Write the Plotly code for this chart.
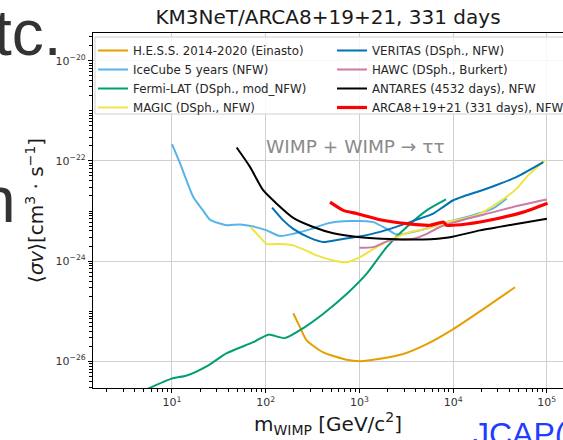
import plotly.graph_objects as go

# ---------------- data ----------------
hess_m = [197, 232, 274, 412, 731, 1014, 1660, 2940, 5230, 10050, 21000, 45800]
hess_sv = [9.1e-26, 4.8e-26, 2.6e-26, 1.5e-26, 1.07e-26, 1.0e-26, 1.12e-26, 1.4e-26, 2.2e-26, 4.4e-26, 1.1e-25, 3.0e-25]

icecube_m = [10, 12.2, 16.9, 21.4, 25.5, 38.4, 53.2, 73.8, 102.5, 142, 197, 297, 448, 794, 1406, 1955, 2500, 4436, 8550, 13970, 26850, 37300]
icecube_sv = [2.16e-22, 8.9e-23, 1.9e-23, 1.03e-23, 6.7e-24, 5.2e-24, 5.4e-24, 4.9e-24, 4.1e-24, 3.16e-24, 3.5e-24, 4.3e-24,
              5.6e-24, 6.3e-24, 6.0e-24, 4.4e-24, 3.4e-24, 4.1e-24, 6.0e-24, 7.6e-24, 1.13e-23, 1.77e-23]

fermi_m = [5.0, 9.9, 14.4, 24.2, 38.4, 73.8, 106.6, 160.7, 252, 412, 731, 1197, 1955, 3200, 5230, 8400]
fermi_sv = [2.6e-27, 4.5e-27, 5.2e-27, 8.2e-27, 1.45e-26, 2.4e-26, 3.4e-26, 2.9e-26, 4.6e-26, 8.9e-26, 2.2e-25, 5.6e-25,
            1.9e-24, 4.8e-24, 1.03e-23, 1.7e-23]

magic_m = [69, 87, 102.5, 142, 197, 297, 350, 526, 731, 1014, 1530, 2300, 3470, 5230, 8550, 12850, 19360, 29150, 47700, 61000, 95700]
magic_sv = [4.8e-24, 3.0e-24, 2.2e-24, 2.2e-24, 2.06e-24, 1.5e-24, 1.3e-24, 1.03e-24, 9.5e-25, 1.2e-24, 1.9e-24, 2.8e-24,
            3.8e-24, 4.4e-24, 6.0e-24, 7.0e-24, 8.9e-24, 1.4e-23, 2.8e-23, 4.8e-23, 1.03e-22]

veritas_m = [117, 154, 197, 297, 412, 621, 1197, 1955, 3467, 4436, 6150, 8000, 10050, 13000, 19360, 29150, 47700, 91800]
veritas_sv = [1.17e-23, 6.5e-24, 4.4e-24, 2.9e-24, 2.4e-24, 2.7e-24, 3.3e-24, 4.2e-24, 6.0e-24, 7.1e-24, 8.9e-24, 1.24e-23,
              1.64e-23, 1.97e-23, 2.5e-23, 3.3e-23, 4.8e-23, 9.5e-23]

hawc_m = [998, 1406, 2120, 3760, 5230, 7240, 13970, 26850, 51750, 99800]
hawc_sv = [1.84e-24, 1.9e-24, 2.6e-24, 2.8e-24, 3.5e-24, 4.8e-24, 7.0e-24, 9.5e-24, 1.3e-23, 1.7e-23]

antares_m = [49, 68, 94, 131, 197, 322, 526, 1014, 2120, 4810, 9270, 19360, 43850, 100400]
antares_sv = [1.85e-22, 7.6e-23, 2.6e-23, 1.4e-23, 7.3e-24, 4.8e-24, 3.6e-24, 3.0e-24, 2.75e-24, 2.7e-24, 3.0e-24, 4.1e-24,
              5.4e-24, 7.0e-24]

arca_m = [486, 673, 935, 1660, 3200, 5660, 7850, 8550, 13970, 29150, 56100, 101800]
arca_sv = [1.5e-23, 1.03e-23, 8.9e-24, 6.7e-24, 5.6e-24, 5.2e-24, 6.0e-24, 5.2e-24, 5.5e-24, 7.0e-24, 9.5e-24, 1.43e-23]

xtick_vals = [1e1, 1e2, 1e3, 1e4, 1e5]
xtick_text = ["10<sup>1</sup>", "10<sup>2</sup>", "10<sup>3</sup>", "10<sup>4</sup>", "10<sup>5</sup>"]
ytick_vals = [1e-20, 1e-22, 1e-24, 1e-26]
ytick_text = ["10<sup>−20</sup>", "10<sup>−22</sup>", "10<sup>−24</sup>", "10<sup>−26</sup>"]

series = [
    ("H.E.S.S. 2014-2020 (Einasto)", hess_m, hess_sv, "#E69F00", 2, "legend"),
    ("IceCube 5 years (NFW)", icecube_m, icecube_sv, "#56B4E9", 2, "legend"),
    ("Fermi-LAT (DSph., mod_NFW)", fermi_m, fermi_sv, "#009E73", 2, "legend"),
    ("MAGIC (DSph., NFW)", magic_m, magic_sv, "#F0E442", 2, "legend"),
    ("VERITAS (DSph., NFW)", veritas_m, veritas_sv, "#0072B2", 2, "legend2"),
    ("HAWC (DSph., Burkert)", hawc_m, hawc_sv, "#CC79A7", 2, "legend2"),
    ("ANTARES (4532 days), NFW", antares_m, antares_sv, "#000000", 2, "legend2"),
    ("ARCA8+19+21 (331 days), NFW", arca_m, arca_sv, "#FF0000", 3.2, "legend2"),
]

fig = go.Figure()
for name, m, sv, col, w, lg in series:
    fig.add_trace(go.Scatter(x=m, y=sv, mode="lines", name=name, legend=lg,
                             line=dict(color=col, width=w, shape="spline", smoothing=0.6)))

W, H = 563, 440
L, R, T, B = 93, 0, 33, 52


def px_x(px):
    return (px - L) / (W - L - R)


def px_y(py):
    return (H - B - py) / (H - T - B)


legend_style = dict(xanchor="left", yanchor="top", bgcolor="rgba(0,0,0,0)", borderwidth=0,
                    font=dict(size=11.8, color="#262626"), tracegroupgap=0, orientation="v")

fig.update_layout(
    width=W, height=H,
    margin=dict(l=L, r=R, t=T, b=B, autoexpand=False),
    paper_bgcolor="white", plot_bgcolor="white",
    font=dict(family="DejaVu Sans", color="#262626"),
    title=dict(text="KM3NeT/ARCA8+19+21, 331 days", x=0.5, xref="paper", xanchor="center",
               y=1 - 17 / H, yref="container", yanchor="middle",
               font=dict(size=20, color="#1a1a1a")),
    showlegend=True,
    legend=dict(x=px_x(93), y=px_y(36), **legend_style),
    legend2=dict(x=px_x(332), y=px_y(36), **legend_style),
)

# legend frame (one box around both columns, as in the reference)
fig.add_shape(type="rect", xref="paper", yref="paper",
              x0=px_x(95), x1=px_x(590), y0=px_y(114), y1=px_y(37),
              fillcolor="rgba(255,255,255,0.85)", line=dict(color="#d0d0d0", width=1), layer="above")

fig.update_xaxes(
    type="log", range=[0.157, 5.173],
    showline=True, linecolor="black", linewidth=1.2, mirror=True,
    ticks="outside", ticklen=4, tickcolor="black",
    tickmode="array", tickvals=xtick_vals, ticktext=xtick_text,
    tickfont=dict(size=11, color="#333333"),
    showgrid=True, gridcolor="#cfcfcf", gridwidth=1.2, zeroline=False,
    minor=dict(ticks="outside", ticklen=2.5, tickcolor="black", showgrid=False, dtick="D1"),
    title=dict(text="m<sub>WIMP</sub> [GeV/c<sup>2</sup>]", font=dict(size=20, color="#1a1a1a"), standoff=4),
)
fig.update_yaxes(
    type="log", range=[-26.534, -19.446],
    showline=True, linecolor="black", linewidth=1.2, mirror=False,
    ticks="outside", ticklen=4, tickcolor="black",
    tickmode="array", tickvals=ytick_vals, ticktext=ytick_text,
    tickfont=dict(size=11, color="#333333"),
    showgrid=True, gridcolor="#cfcfcf", gridwidth=1.2, zeroline=False,
    minor=dict(ticks="outside", ticklen=2.5, tickcolor="black", showgrid=False, dtick="D1"),
    title=dict(text="⟨<i>σv</i>⟩[cm<sup>3</sup> · s<sup>−1</sup>]", font=dict(size=20, color="#1a1a1a"), standoff=6),
)

fig.add_annotation(text="WIMP + WIMP → ττ", xref="paper", yref="paper",
                   x=px_x(355), y=px_y(146), xanchor="center", yanchor="middle",
                   showarrow=False, font=dict(size=18.5, color="#8a8a8a"))

# fragments of the surrounding slide visible in the crop
fig.add_annotation(text="tc.", xref="paper", yref="paper", x=px_x(64), y=px_y(33),
                   xanchor="right", yanchor="middle", showarrow=False,
                   font=dict(family="Liberation Sans", size=64, color="#333333"))
fig.add_annotation(text="n", xref="paper", yref="paper", x=px_x(18), y=px_y(200),
                   xanchor="right", yanchor="middle", showarrow=False,
                   font=dict(family="Liberation Sans", size=64, color="#333333"))
fig.add_annotation(text="JCAP(", xref="paper", yref="paper", x=px_x(471), y=px_y(414),
                   xanchor="left", yanchor="top", showarrow=False,
                   font=dict(family="Liberation Sans", size=32, color="#1f3cff"))

fig.write_html("out.html", config={"displayModeBar": False},
               post_script="document.body.style.margin='0px';")
